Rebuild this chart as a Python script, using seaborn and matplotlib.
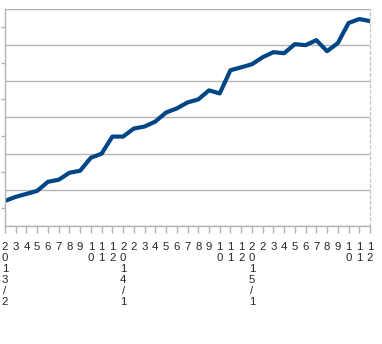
import matplotlib
matplotlib.use("Agg")
import matplotlib.pyplot as plt
import seaborn as sns
import pandas as pd
from matplotlib.ticker import MultipleLocator

months = ["2013/2", "3", "4", "5", "6", "7", "8", "9", "10", "11", "12",
          "2014/1", "2", "3", "4", "5", "6", "7", "8", "9", "10", "11", "12",
          "2015/1", "2", "3", "4", "5", "6", "7", "8", "9", "10", "11", "12"]
values = [34.7, 40.3, 44.4, 48.6, 61.1, 63.9, 73.6, 76.4, 94.4, 100.0, 123.6,
          123.6, 134.7, 137.5, 144.4, 156.9, 162.5, 170.8, 175.0, 187.5, 183.3,
          215.3, 219.4, 223.6, 233.3, 240.3, 238.9, 251.4, 250.0, 256.9, 241.7,
          252.8, 280.6, 286.1, 283.3]

sns.set_style("white")
plt.rcParams['font.family'] = ['Liberation Sans', 'DejaVu Sans']

df = pd.DataFrame({"idx": range(len(months)), "value": values})

fig = plt.figure(figsize=(3.82, 3.44), dpi=100)
ax = fig.add_axes([5/382, (344-226)/344, 365/382, 217/344])

sns.lineplot(data=df, x="idx", y="value", ax=ax, color="#004586", linewidth=3.0)

ax.set_xlim(0, len(months) - 1)
ax.set_ylim(0, 300)
ax.yaxis.set_major_locator(MultipleLocator(50))
ax.yaxis.set_minor_locator(MultipleLocator(25))
ax.grid(axis="y", which="major", color="#b3b3b3", linewidth=1)
ax.grid(axis="x", visible=False)
ax.set_yticklabels([])
ax.tick_params(axis="y", which="major", length=0)
ax.tick_params(axis="y", which="minor", length=3, color="#b3b3b3", width=1, direction="out", left=True)

ax.set_xticks(range(len(months)))
ax.set_xticklabels(["\n".join(m) for m in months], fontsize=8.2, linespacing=1.12,
                   va="top", ha="center")
ax.tick_params(axis="x", which="major", length=5, color="#b3b3b3", width=1,
               direction="out", bottom=True, pad=6.5)

ax.set_xlabel("")
ax.set_ylabel("")
for s in ["left", "bottom"]:
    ax.spines[s].set_color("#b3b3b3")
    ax.spines[s].set_linewidth(1)
ax.spines["top"].set_visible(False)
ax.spines["right"].set_visible(True)
ax.spines["right"].set_color("#c8c8c8")
ax.spines["right"].set_linestyle((0, (2, 2)))
ax.spines["right"].set_linewidth(1)

fig.savefig("out.png", dpi=100)
